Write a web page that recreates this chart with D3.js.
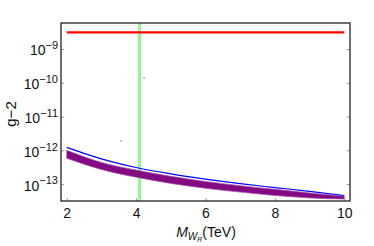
<!DOCTYPE html>
<html>
<head>
<meta charset="utf-8">
<script src="https://cdn.jsdelivr.net/npm/d3@7"></script>
<style>
  body { margin: 0; background: #fff; }
  text { font-family: "Liberation Sans", Arial, sans-serif; }
</style>
</head>
<body>
<script>
// values
var masses = [2, 3, 4, 5, 6, 7, 8, 9, 10];
var boundValues = [1.23e-12, 5.6e-13, 3.1e-13, 2.0e-13, 1.4e-13, 1.03e-13, 7.9e-14, 6.1e-14, 4.6e-14];
var scanTop = [1.0e-12, 4.4e-13, 2.6e-13, 1.7e-13, 1.2e-13, 9.0e-14, 7.0e-14, 5.5e-14, 4.4e-14];
var scanBottom = [5.8e-13, 2.7e-13, 1.6e-13, 1.05e-13, 7.5e-14, 5.8e-14, 4.6e-14, 3.9e-14, 3.6e-14];
var strayX = [4.23, 3.57];
var strayY = [1.4e-10, 1.9e-12];
var expValue = 3.1e-9;
var limitMass = 4.1;
var xTicks = [2, 4, 6, 8, 10];
var yTicks = [-13, -12, -11, -10, -9];

var W = 374, H = 246;
var plotL = 61, plotR = 350, plotT = 23, plotB = 201;

var svg = d3.select("body").append("svg")
    .attr("width", W)
    .attr("height", H);

var x = d3.scaleLinear().domain([1.835, 10.165]).range([plotL, plotR]);
var y = d3.scaleLog().domain([Math.pow(10, -13.5), Math.pow(10, -8.23)]).range([plotB, plotT]);

// green vertical line
svg.append("line")
    .attr("x1", x(limitMass)).attr("x2", x(limitMass))
    .attr("y1", plotT).attr("y2", plotB)
    .style("stroke", "#99f299")
    .style("stroke-width", 3.2);

// scan band
var band = masses.map(function(m, i) { return {m: m, hi: scanTop[i], lo: scanBottom[i]}; });
var area = d3.area()
    .x(function(d) { return x(d.m); })
    .y0(function(d) { return y(d.lo); })
    .y1(function(d) { return y(d.hi); })
    .curve(d3.curveMonotoneX);
svg.append("path")
    .datum(band)
    .attr("d", area)
    .style("fill", "#820a82")
    .style("stroke", "#a84ea8")
    .style("stroke-width", 1)
    .style("stroke-opacity", 0.7);

// stray points
svg.selectAll(".stray")
    .data(strayX)
  .enter().append("rect")
    .attr("class", "stray")
    .attr("x", function(d) { return x(d) - 0.8; })
    .attr("y", function(d, i) { return y(strayY[i]) - 0.8; })
    .attr("width", 1.6).attr("height", 1.6)
    .style("fill", "#c08ac0");

// blue bound
var line = d3.line()
    .x(function(d, i) { return x(masses[i]); })
    .y(function(d) { return y(d); })
    .curve(d3.curveMonotoneX);
svg.append("path")
    .datum(boundValues)
    .attr("d", line)
    .style("fill", "none")
    .style("stroke", "#0000ff")
    .style("stroke-width", 1.2);

// red experimental value
svg.append("line")
    .attr("x1", x(2)).attr("x2", x(10))
    .attr("y1", y(expValue)).attr("y2", y(expValue))
    .style("stroke", "#ff0000")
    .style("stroke-width", 2.2);

// axes
var xAxis = svg.append("g")
    .attr("transform", "translate(0," + plotB + ")")
    .call(d3.axisBottom(x).tickValues(xTicks).tickSizeInner(-3).tickSizeOuter(0).tickPadding(7).tickFormat(d3.format("d")))
    .attr("font-size", 14)
    .attr("font-family", "Liberation Sans, Arial, sans-serif");
xAxis.select(".domain").remove();
xAxis.selectAll("line").style("stroke", "#999");
xAxis.selectAll("text").attr("font-size", 14).style("fill", "#111");

var yAxis = svg.append("g")
    .attr("transform", "translate(" + plotL + ",0)")
    .call(d3.axisLeft(y).tickValues(yTicks.map(function(e) { return Math.pow(10, e); })).tickSizeInner(-3).tickSizeOuter(0).tickPadding(3).tickFormat(""))
    .attr("font-size", 14)
    .attr("font-family", "Liberation Sans, Arial, sans-serif");
yAxis.select(".domain").remove();
yAxis.selectAll("line").style("stroke", "#999");
yAxis.selectAll("text").each(function(d) {
  var t = d3.select(this).attr("font-size", 14).style("fill", "#111").attr("dy", "0.42em");
  t.append("tspan").attr("font-size", 14).text("10");
  t.append("tspan").attr("dy", "-0.55em").attr("font-size", 11).text("\u2212" + Math.round(-Math.log10(d)));
});

var yRight = svg.append("g")
    .attr("transform", "translate(" + plotR + ",0)")
    .call(d3.axisRight(y).tickValues(yTicks.map(function(e) { return Math.pow(10, e); })).tickSizeInner(-3).tickSizeOuter(0).tickFormat(""));
yRight.select(".domain").remove();
yRight.selectAll("line").style("stroke", "#999");

// frame
svg.append("rect")
    .attr("x", plotL).attr("y", plotT)
    .attr("width", plotR - plotL).attr("height", plotB - plotT)
    .style("fill", "none")
    .style("stroke", "#222")
    .style("stroke-width", 1.3);

// axis titles
var xt = svg.append("text")
    .attr("x", 206).attr("y", 237)
    .attr("text-anchor", "middle")
    .attr("font-size", 14)
    .style("fill", "#111");
xt.append("tspan").style("font-style", "italic").text("M");
xt.append("tspan").attr("dy", 3).style("font-style", "italic").attr("font-size", 10).text("W");
xt.append("tspan").attr("dy", 2).style("font-style", "italic").attr("font-size", 7).text("R");
xt.append("tspan").attr("dy", -5).text("(TeV)");

svg.append("text")
    .attr("transform", "translate(16,114) rotate(-90)")
    .attr("text-anchor", "middle")
    .attr("font-size", 15)
    .style("fill", "#111")
    .text("g\u22122");
</script>
</body>
</html>
